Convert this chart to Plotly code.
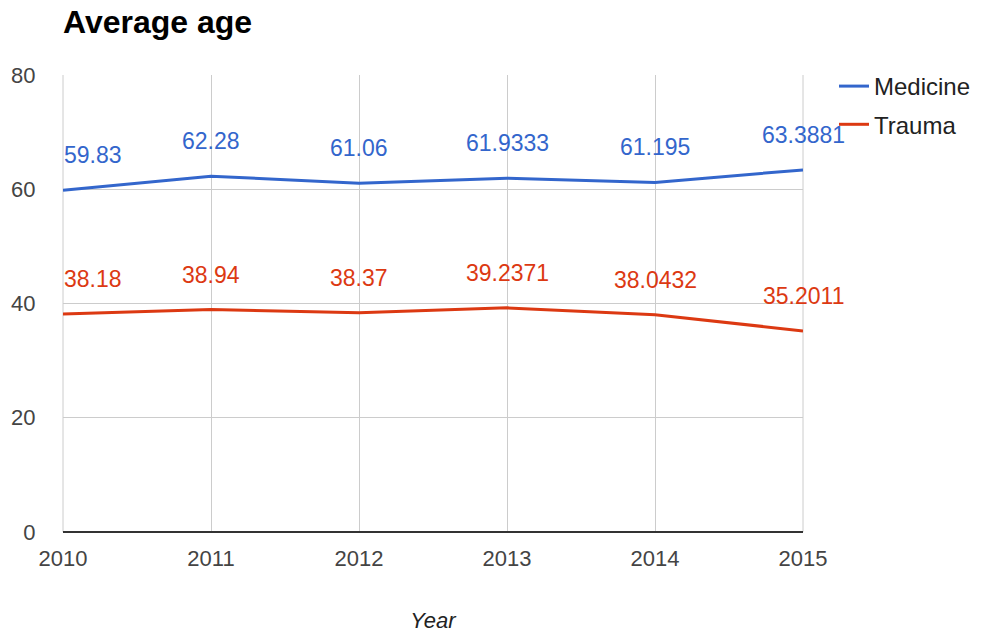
import plotly.graph_objects as go

years = [2010, 2011, 2012, 2013, 2014, 2015]
medicine = [59.83, 62.28, 61.06, 61.9333, 61.195, 63.3881]
trauma = [38.18, 38.94, 38.37, 39.2371, 38.0432, 35.2011]
medicine_labels = ["59.83", "62.28", "61.06", "61.9333", "61.195", "63.3881"]
trauma_labels = ["38.18", "38.94", "38.37", "39.2371", "38.0432", "35.2011"]
y_ticks = [0, 20, 40, 60, 80]

BLUE = "#3366cc"
RED = "#dc3912"
FONT = "Liberation Sans, Arial, sans-serif"

fig = go.Figure()
fig.add_trace(go.Scatter(x=years, y=medicine, mode="lines", name="Medicine",
                         line=dict(color=BLUE, width=3), legendgroup="m"))
fig.add_trace(go.Scatter(x=years, y=trauma, mode="lines", name="Trauma",
                         line=dict(color=RED, width=3), legendgroup="t"))

def add_labels(vals, labels, color):
    for i, (x, y, t) in enumerate(zip(years, vals, labels)):
        xshift = 0
        if i == 0:
            xshift = 30
        fig.add_annotation(x=x, y=y, text=t, showarrow=False, yshift=35, xshift=xshift,
                           font=dict(color=color, size=23, family=FONT))

add_labels(medicine, medicine_labels, BLUE)
add_labels(trauma, trauma_labels, RED)

fig.update_layout(
    width=988, height=635,
    margin=dict(l=63, r=185, t=75, b=103),
    paper_bgcolor="white", plot_bgcolor="white",
    font=dict(family=FONT, color="#444", size=22),
    title=dict(text="<b>Average age</b>", x=0, xanchor="left", xref="paper",
               y=1 - 22/635, yanchor="middle", yref="container",
               font=dict(size=32, color="#000", family=FONT)),
    legend=dict(x=834/988, y=1 - 64/635, xref="container", yref="container",
                xanchor="left", yanchor="top",
                font=dict(size=24, color="#222"), tracegroupgap=4,
                bgcolor="rgba(0,0,0,0)"),
    showlegend=True,
)
fig.update_xaxes(range=[2010, 2015], tickvals=years, ticktext=[str(y) for y in years],
                 showgrid=True, gridcolor="#cccccc", gridwidth=1, automargin=False,
                 showline=False, zeroline=False, ticks="outside", ticklen=7,
                 tickcolor="rgba(0,0,0,0)",
                 tickfont=dict(size=22, color="#444"),
                 title=dict(text="<i>Year</i>", standoff=42, font=dict(size=22, color="#222")))
fig.update_yaxes(range=[0, 80], tickvals=y_ticks, showgrid=True, gridcolor="#cccccc",
                 gridwidth=1, zeroline=True, zerolinecolor="#333", zerolinewidth=2,
                 automargin=False,
                 showline=False, ticks="outside", ticklen=22, tickcolor="rgba(0,0,0,0)",
                 tickfont=dict(size=22, color="#444"))
fig.add_shape(type="line", xref="paper", yref="paper", x0=0, x1=0, y0=0, y1=1,
              line=dict(color="#cccccc", width=1), layer="below")
fig.add_shape(type="line", xref="paper", yref="paper", x0=1, x1=1, y0=0, y1=1,
              line=dict(color="#cccccc", width=1), layer="below")

fig.write_html("out.html")
